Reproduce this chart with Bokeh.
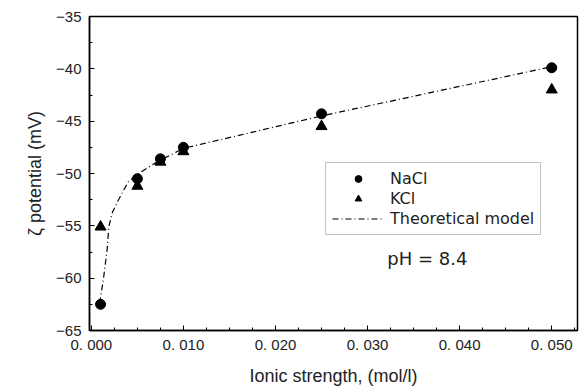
from bokeh.plotting import figure
from bokeh.models import FixedTicker, Legend, LegendItem, Label
from bokeh.embed import file_html
from bokeh.resources import INLINE

nacl_x = [0.001, 0.005, 0.0075, 0.010, 0.025, 0.050]
nacl_y = [-62.5, -50.5, -48.6, -47.5, -44.3, -39.9]
kcl_x = [0.001, 0.005, 0.0075, 0.010, 0.025, 0.050]
kcl_y = [-55.1, -51.2, -48.9, -47.9, -45.5, -42.0]
model_x = [0.0009, 0.00134, 0.0017, 0.0019, 0.00225, 0.0029, 0.004, 0.0053, 0.0073, 0.0089, 0.010, 0.025, 0.050]
model_y = [-62.4, -59.9, -57.4, -55.1, -53.8, -52.6, -50.8, -49.9, -48.8, -48.1, -47.6, -44.5, -39.8]
x_ticks = [0.0, 0.01, 0.02, 0.03, 0.04, 0.05]
x_tick_labels = ["0. 000", "0. 010", "0. 020", "0. 030", "0. 040", "0. 050"]
y_ticks = [-65, -60, -55, -50, -45, -40, -35]

FONT = "Liberation Sans"
WFONT = "DejaVu Sans"

p = figure(width=579, height=390, x_range=(-0.0002, 0.0528), y_range=(-65, -35),
           output_backend="svg", toolbar_location=None,
           min_border_left=89, min_border_right=2, min_border_top=16, min_border_bottom=60)
p.grid.visible = False
p.outline_line_color = "black"
p.outline_line_width = 1.5

p.xaxis.ticker = FixedTicker(ticks=x_ticks, minor_ticks=[i * 0.0025 for i in range(22)])
p.xaxis.major_label_overrides = {t: l for t, l in zip(x_ticks, x_tick_labels)}
p.yaxis.ticker = FixedTicker(ticks=y_ticks, minor_ticks=[-65 + 2.5 * i for i in range(13)])
p.yaxis.major_label_overrides = {t: "\u2212" + str(abs(t)) for t in y_ticks}
for ax in (p.xaxis, p.yaxis):
    ax.major_tick_in = 5
    ax.major_tick_out = 0
    ax.minor_tick_in = 3
    ax.minor_tick_out = 0
    ax.axis_line_width = 1.5
    ax.major_label_text_font = FONT
    ax.major_label_text_font_size = "15px"
    ax.major_label_text_color = "#222222"
    ax.axis_label_text_font = FONT
    ax.axis_label_text_font_size = "18px"
    ax.axis_label_text_font_style = "normal"
    ax.axis_label_text_color = "#222222"
p.xaxis.major_label_standoff = 5
p.yaxis.major_label_standoff = 8
p.xaxis.axis_label = "Ionic strength, (mol/l)"
p.xaxis.axis_label_standoff = 10
p.yaxis.axis_label = "\u03b6 potential (mV)"
p.yaxis.axis_label_standoff = 8

r_model = p.line(model_x, model_y, line_color="black", line_width=1.2, line_dash="6 3 1 3")
r_nacl = p.scatter(nacl_x, nacl_y, marker="circle", size=10, fill_color="black", line_color="black")
r_kcl = p.scatter(kcl_x, kcl_y, marker="triangle", size=11, fill_color="black", line_color="black")

legend = Legend(items=[LegendItem(label="NaCl", renderers=[r_nacl]),
                       LegendItem(label="KCl", renderers=[r_kcl]),
                       LegendItem(label="Theoretical model", renderers=[r_model])],
                location=(236, 95), orientation="vertical",
                label_text_font=WFONT, label_text_font_size="16px", label_text_color="#222222",
                border_line_color="#888888", border_line_width=1,
                glyph_width=52, glyph_height=17, spacing=1, padding=6, margin=0,
                label_standoff=6, label_height=17)
p.add_layout(legend, "center")

p.add_layout(Label(x=0.0365, y=-58.1, text="pH = 8.4", text_align="center", text_baseline="middle",
                   text_font=WFONT, text_font_size="18px", text_color="#222222"))

open("out.html", "w").write(file_html(p, INLINE))
